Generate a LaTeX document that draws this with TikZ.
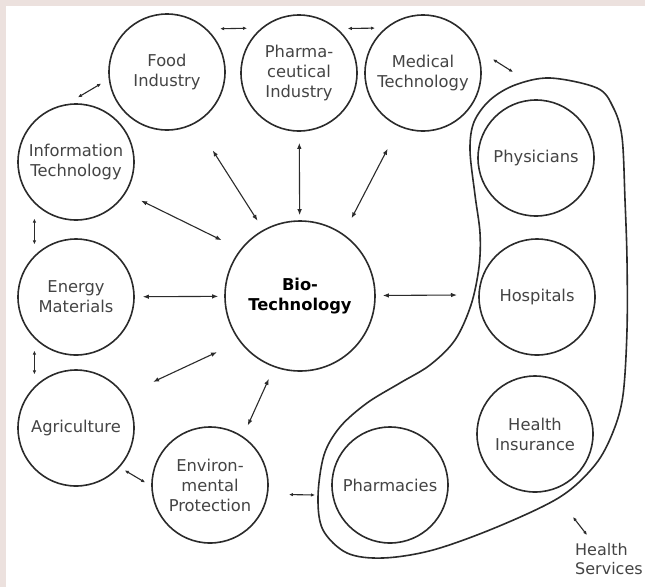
\documentclass[tikz,border=0pt]{standalone}
\usepackage{fontspec}
\setmainfont{DejaVu Sans}
\usetikzlibrary{arrows.meta}
\definecolor{framepink}{HTML}{ECE1DE}
\definecolor{ink}{HTML}{2B2B2B}
\definecolor{labelgray}{HTML}{444444}
\tikzset{
  circ/.style={circle, draw=ink, line width=1.6pt, minimum size=116pt, inner sep=0pt,
    align=center, text=labelgray, font=\fontsize{16.3}{20}\selectfont},
  biocirc/.style={circ, minimum size=150pt, text=black,
    font=\fontsize{16.3}{20}\selectfont\bfseries},
  bi/.style={{Latex[length=6pt,width=4.5pt]}-{Latex[length=6pt,width=4.5pt]},
    line width=1.1pt, draw=ink},
  sbi/.style={{Latex[length=4pt,width=3.5pt]}-{Latex[length=4pt,width=3.5pt]},
    line width=1.1pt, draw=ink},
  grouptext/.style={inner sep=0pt, align=left, text=labelgray,
    font=\fontsize{16}{19.5}\selectfont}
}
\begin{document}
\begin{tikzpicture}[x=1pt, y=-1pt]
\useasboundingbox (0,0) rectangle (645,587);
% page frame
\fill[framepink] (0,0) rectangle (645,587);
\fill[white] (6,6) rectangle (645,587);

% outer fields
\node[circ] (food)   at (167,72)  {Food\\Industry};
\node[circ] (pharma) at (299,73)  {Pharma-\\ceutical\\Industry};
\node[circ] (med)    at (423,73)  {Medical\\Technology};
\node[circ] (it)     at (76,162)  {Information\\Technology};
\node[circ] (energy) at (76,297)  {Energy\\Materials};
\node[circ] (agri)   at (76,428)  {Agriculture};
\node[circ] (env)    at (210,485) {Environ-\\mental\\Protection};
\node[biocirc] (bio) at (300,296) {Bio-\\Technology};

% health services group
\node[circ] (phys)  at (536,158) {Physicians};
\node[circ] (hosp)  at (537,297) {Hospitals};
\node[circ] (ins)   at (535,434) {Health\\Insurance};
\node[circ] (pharm) at (390,485) {Pharmacies};

\draw[ink, line width=1.6pt] plot[smooth cycle, tension=0.55] coordinates {
  (550,78) (597,88) (613,107) (622,137) (625,200) (627,260) (627,330) (623,395)
  (613,432) (595,465) (560,497) (497,527) (433,550) (383,558) (347,553)
  (323,530) (318,497) (324,455) (340,427) (367,403) (400,383) (430,365)
  (455,340) (471,305) (479,267) (480,233) (475,195) (470,150) (474,122)
  (490,100) (515,85)};

\node[grouptext, anchor=north west] (hslabel) at (575,543) {Health\\Services};

% free ends at the group outline
\coordinate (hsNW)  at (513,72);
\coordinate (hsE)   at (457,295);
\coordinate (hsSW)  at (315,495);
\coordinate (hsSE)  at (573,517);
\coordinate (hsTip) at (587,535);

% links between neighbouring fields
\draw[sbi, shorten <=13.1pt, shorten >=14.2pt] (food.47.9) -- (pharma.130.6);
\draw[sbi, shorten <=10.2pt, shorten >=10.2pt] (pharma.49.4) -- (med.130.6);
\draw[sbi, shorten <=13pt, shorten >=8.7pt] (it.99) -- (food.187.5);
\draw[sbi, shorten <=19.1pt] (med.24.5) -- (hsNW);
\draw[sbi, shorten <=15pt, shorten >=11pt] (it.225) -- (energy.135);
\draw[sbi, shorten <=12pt, shorten >=12pt] (energy.225) -- (agri.135);
\draw[sbi, shorten <=5.9pt, shorten >=7pt] (agri.-42.3) -- (env.181.6);
\draw[sbi, shorten <=20.9pt] (env.-9.9) -- (hsSW);
\draw[sbi] (hsSE) -- (hsTip);

% links to biotechnology
\draw[bi, shorten <=32pt, shorten >=10.6pt] (food.-61.1) -- (bio.119.9);
\draw[bi, shorten <=11pt, shorten >=5pt] (pharma) -- (bio);
\draw[bi, shorten <=24.8pt, shorten >=17.5pt] (med.246.1) -- (bio.55.1);
\draw[bi, shorten <=17pt, shorten >=20.8pt] (it.-32.9) -- (bio.142.3);
\draw[bi, shorten <=8pt, shorten >=6pt] (energy) -- (bio);
\draw[bi, shorten <=31.2pt, shorten >=24.8pt] (agri.34.8) -- (bio.217.6);
\draw[bi, shorten <=11.8pt, shorten >=12.7pt] (env.56.4) -- (bio.250);
\draw[bi, shorten <=7pt] (bio) -- (hsE);
\end{tikzpicture}
\end{document}
